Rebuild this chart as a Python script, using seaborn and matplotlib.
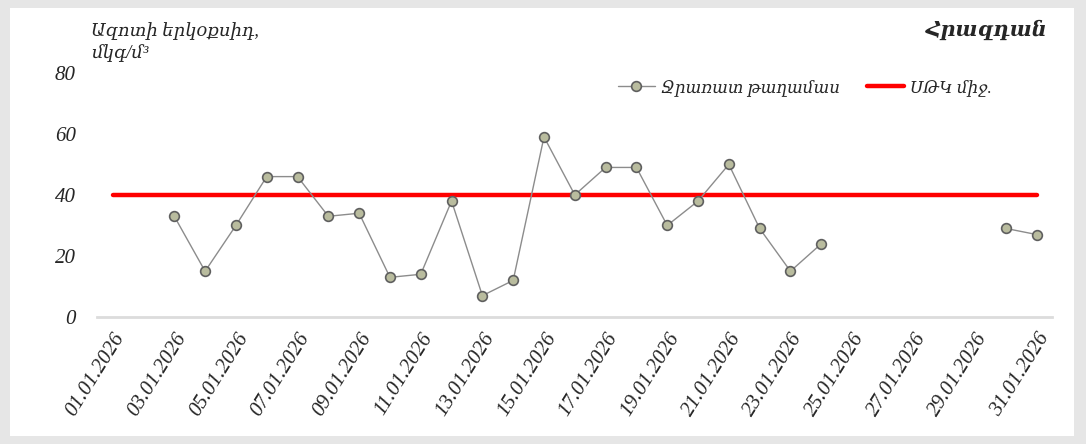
import numpy as np
import pandas as pd
import matplotlib.pyplot as plt
import seaborn as sns
from matplotlib.patches import Rectangle

# NO2 daily means, Hrazdan (Jrarat district), January 2026
days = list(range(1, 32))
no2_values = [np.nan, np.nan, 33, 15, 30, 46, 46, 33, 34, 13, 14, 38, 7, 12, 59,
              40, 49, 49, 30, 38, 50, 29, 15, 24, np.nan, np.nan, np.nan, np.nan,
              np.nan, 29, 27]
mac_value = 40

station_label = 'Ջրառատ թաղամաս'
mac_label = 'ՍԹԿ միջ.'
title = 'Հրազդան'
ylabel = 'Ազոտի երկօքսիդ,\nմկգ/մ³'
tick_days = list(range(1, 32, 2))
tick_labels = [f'{d:02d}.01.2026' for d in tick_days]

sns.set_style('white')
plt.rcParams['font.family'] = ['Liberation Serif', 'DejaVu Serif']
plt.rcParams['font.style'] = 'italic'

df = pd.DataFrame({'day': days, 'no2': no2_values})
# break the line where data is missing
df['segment'] = df['no2'].isna().cumsum()
df = df.dropna()
mac_df = pd.DataFrame({'day': days, 'mac': [mac_value] * len(days)})

fig = plt.figure(figsize=(10.86, 4.44), dpi=100, facecolor='#e6e6e6')
frame = Rectangle((10 / 1086, 8 / 444), 1064 / 1086, 428 / 444,
                  transform=fig.transFigure, facecolor='white',
                  edgecolor='none', zorder=-10)
fig.add_artist(frame)
ax = fig.add_axes([0.089, 0.286, 0.88, 0.55])
ax.set_facecolor('none')

sns.lineplot(data=mac_df, x='day', y='mac', color='#ff0000', linewidth=3.2,
             ax=ax, label=mac_label, zorder=2)
sns.lineplot(data=df, x='day', y='no2', units='segment', estimator=None,
             color='#8c8c8c', linewidth=1, marker='o', markersize=7,
             markerfacecolor='#b9bc9e', markeredgecolor='#5f5f5f',
             markeredgewidth=1.2, ax=ax, label=station_label, zorder=3)

ax.set_xlim(0.48, 31.5)
ax.set_ylim(0, 80)
ax.set_yticks([0, 20, 40, 60, 80])
ax.set_xticks(tick_days)
ax.set_xticklabels(tick_labels, rotation=58, ha='right', rotation_mode='anchor')
ax.tick_params(axis='x', labelsize=15, length=0, pad=9)
ax.tick_params(axis='y', labelsize=15, length=0, pad=15)
ax.set_xlabel('')
ax.set_ylabel('')
for side in ['top', 'right', 'left']:
    ax.spines[side].set_visible(False)
ax.spines['bottom'].set_color('#dcdcdc')
ax.spines['bottom'].set_linewidth(2)

# one legend entry per series (the station line is drawn in segments)
handles, labels = ax.get_legend_handles_labels()
uniq = dict(zip(labels, handles))
ax.legend([uniq[station_label], uniq[mac_label]], [station_label, mac_label],
          ncol=2, frameon=False, fontsize=12, loc='upper left',
          bbox_to_anchor=(0.53, 1.035), handlelength=2.2,
          columnspacing=1.6, handletextpad=0.4)

fig.text(0.965, 0.932, title, ha='right', va='center', fontsize=15,
         fontweight='bold')
fig.text(0.084, 0.905, ylabel, ha='left', va='center', fontsize=13,
         linespacing=1.25)

fig.savefig('out.png', dpi=100, facecolor=fig.get_facecolor())
